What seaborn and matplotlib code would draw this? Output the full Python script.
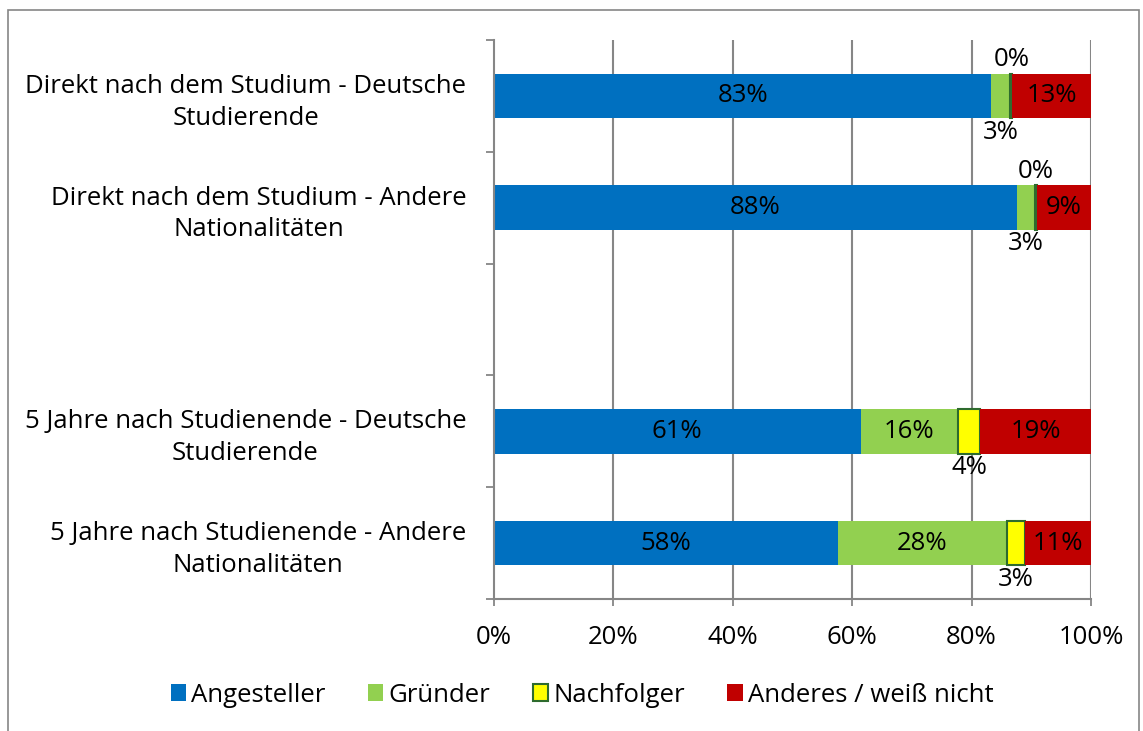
import numpy as np
import pandas as pd
import matplotlib.pyplot as plt
import seaborn as sns
from matplotlib.patches import Patch, Rectangle

# ==============================
# Daten
# ==============================
kategorien = [
    "Direkt nach dem Studium - Deutsche\nStudierende",
    "Direkt nach dem Studium - Andere\nNationalitäten",
    "",
    "5 Jahre nach Studienende - Deutsche\nStudierende",
    "5 Jahre nach Studienende - Andere\nNationalitäten",
]
angesteller = [83.3, 87.6, np.nan, 61.4, 57.6]
gruender = [3.2, 3.0, np.nan, 16.4, 28.3]
nachfolger = [0.3, 0.3, np.nan, 3.6, 3.1]
anderes = [13.2, 9.1, np.nan, 18.6, 11.0]

serien = ["Angesteller", "Gründer", "Nachfolger", "Anderes / weiß nicht"]
werte = [angesteller, gruender, nachfolger, anderes]
x_ticks = [0, 20, 40, 60, 80, 100]

farben = ["#0070C0", "#92D050", "#FFFF00", "#C00000"]
kanten = [None, None, "#2E6B2E", None]
grau = "#868686"

# ==============================
# Stil
# ==============================
sns.set_style("white")
plt.rcParams['font.family'] = ['Open Sans', 'DejaVu Sans']
plt.rcParams['text.color'] = 'black'
plt.rcParams['xtick.color'] = 'black'
plt.rcParams['ytick.color'] = 'black'
fs = 18.5

fig, ax = plt.subplots(figsize=(11.43, 7.31), dpi=100)
fig.subplots_adjust(left=494/1143, right=1091/1143, top=1-40/731, bottom=1-599/731)

# ==============================
# Gestapelte Balken
# ==============================
links = np.zeros(len(kategorien))
for name, vals, farbe, kante in zip(serien, werte, farben, kanten):
    df = pd.DataFrame({'kategorie': kategorien, 'wert': vals}).dropna()
    n_vorher = len(ax.patches)
    sns.barplot(data=df, x='wert', y='kategorie', order=kategorien, orient='h',
                color=farbe, saturation=1, width=0.4, errorbar=None, ax=ax,
                edgecolor=kante if kante else 'none', linewidth=1.5 if kante else 0)
    for p in ax.patches[n_vorher:]:
        idx = int(round(p.get_y() + p.get_height() / 2))
        p.set_x(links[idx])
    # Beschriftungen
    for idx, v in enumerate(vals):
        if np.isnan(v):
            continue
        xc = links[idx] + v / 2
        txt = f"{v:.0f}%"
        if v < 1:
            ax.annotate(txt, (xc, idx - 0.2), xytext=(0, 1), textcoords='offset points',
                        ha='center', va='bottom', fontsize=fs)
        elif v < 5:
            ax.annotate(txt, (xc, idx + 0.2), xytext=(0, -1), textcoords='offset points',
                        ha='center', va='top', fontsize=fs)
        else:
            ax.text(xc, idx, txt, ha='center', va='center', fontsize=fs)
    links = links + np.nan_to_num(np.array(vals, dtype=float))

# ==============================
# Achsen
# ==============================
ax.set_xlim(0, 100)
ax.set_ylim(4.5, -0.5)
ax.set_xticks(x_ticks)
ax.set_xticklabels([f"{t}%" for t in x_ticks], fontsize=fs)
ax.set_yticks(range(len(kategorien)))
ax.set_yticklabels(kategorien, fontsize=fs, multialignment='center', linespacing=1.35)
ax.set_yticks(np.arange(-0.5, len(kategorien), 1), minor=True)
ax.tick_params(axis='both', which='both', left=True, bottom=True)
ax.tick_params(axis='y', which='major', length=0, pad=20)
ax.tick_params(axis='y', which='minor', length=6, color=grau, width=1.3, direction='out')
ax.tick_params(axis='x', which='major', length=5, color=grau, width=1.3, direction='out', pad=14)
ax.set_xlabel("")
ax.set_ylabel("")

ax.set_axisbelow(True)
for t in x_ticks[1:]:
    ax.axvline(t, color=grau, lw=1.5, zorder=0)
for s in ['top', 'right']:
    ax.spines[s].set_visible(False)
for s in ['left', 'bottom']:
    ax.spines[s].set_color(grau)
    ax.spines[s].set_linewidth(1.5)

# ==============================
# Legende
# ==============================
handles = [Patch(facecolor=f, edgecolor=k if k else f, linewidth=1.5 if k else 0)
           for f, k in zip(farben, kanten)]
fig.legend(handles, serien, loc='center', bbox_to_anchor=(582/1143, 1-695/731),
           ncol=4, frameon=False, fontsize=fs, handlelength=0.6, handleheight=0.6,
           handletextpad=0.2, columnspacing=1.65)

# Rahmen
fig.add_artist(Rectangle((8/1143, -0.01), 1131/1143, 1-10/731+0.01,
                         transform=fig.transFigure, fill=False, edgecolor=grau, lw=1.2))

plt.savefig('out.png', dpi=100)
